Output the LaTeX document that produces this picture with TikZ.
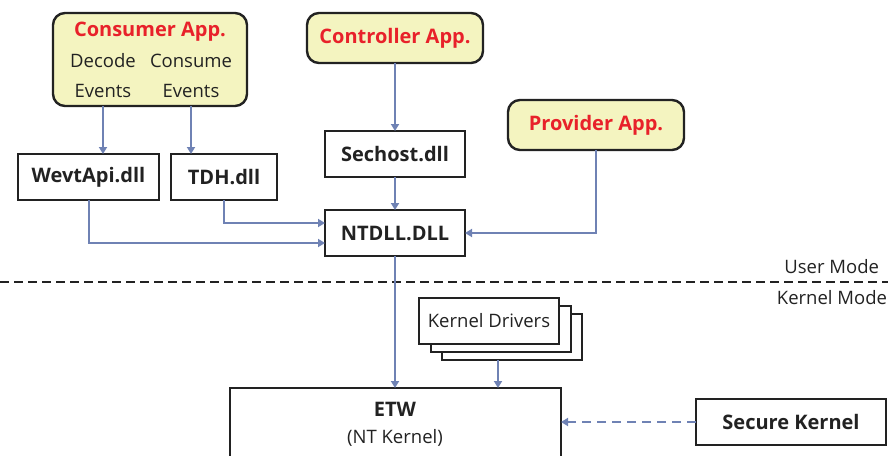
\documentclass[tikz,border=0pt]{standalone}
\usepackage{fontspec}
\setmainfont{Open Sans}
\usetikzlibrary{arrows.meta,positioning}
\definecolor{conn}{HTML}{6F82B4}
\definecolor{appfill}{HTML}{F4F4C0}
\definecolor{appred}{HTML}{E8212A}
\definecolor{edge}{HTML}{222222}
\begin{document}
\begin{tikzpicture}[x=1pt,y=-1pt,
  every node/.style={inner sep=0pt, outer sep=0pt},
  appbox/.style={draw=edge, line width=2.4pt, rounded corners=12pt, fill=appfill},
  dllbox/.style={draw=edge, line width=2pt, fill=white},
  apptext/.style={text=appred, font=\fontsize{20}{24}\selectfont\bfseries},
  dlltext/.style={text=edge, font=\fontsize{20}{24}\selectfont\bfseries},
  plaintext/.style={text=edge, font=\fontsize{18.5}{22}\selectfont},
  link/.style={draw=conn, line width=2pt, -{Triangle[width=8pt,length=7pt]}},
  dlink/.style={link, dash pattern=on 9pt off 6pt},
  modeline/.style={draw=edge, line width=2pt, dash pattern=on 9pt off 5pt}]
\useasboundingbox (0,0) rectangle (888,455);
% Consumer App
\node[appbox, minimum width=194pt, minimum height=93pt] (cons) at (150,59.5) {};
\node[apptext] (consT) at (150,32) {Consumer App.};
\node[plaintext] (dec1) at (103,61) {Decode};
\node[plaintext] (dec2) at (103,91) {Events};
\node[plaintext] (con1) at (191,61) {Consume};
\node[plaintext] (con2) at (191,91) {Events};
% Controller
\node[appbox, minimum width=176pt, minimum height=50pt] (ctrl) at (395,38) {};
\node[apptext] at (ctrl.center) {Controller App.};
% Provider
\node[appbox, minimum width=176pt, minimum height=50pt] (prov) at (596,125) {};
\node[apptext] at (prov.center) {Provider App.};
% DLLs
\node[dllbox, minimum width=141pt, minimum height=46pt] (wevt) at (88.5,177) {};
\node[dlltext] at (wevt.center) {WevtApi.dll};
\node[dllbox, minimum width=106pt, minimum height=46pt] (tdh) at (224,177) {};
\node[dlltext] at (tdh.center) {TDH.dll};
\node[dllbox, minimum width=140pt, minimum height=46pt] (sec) at (395,154) {};
\node[dlltext] at (sec.center) {Sechost.dll};
\node[dllbox, minimum width=140pt, minimum height=46pt] (nt) at (395,233) {};
\node[dlltext] at (nt.center) {NTDLL.DLL};
% Mode line
\coordinate (ml) at (0,282);
\coordinate (mr) at (888,282);
\draw[modeline] (ml) -- (mr);
\node[plaintext, anchor=east] (um) at (879,267) {User Mode};
\node[plaintext, anchor=east] (km) at (887,298) {Kernel Mode};
% Kernel drivers stack
\node[dllbox, minimum width=140pt, minimum height=46pt] (kd3) at (512,337) {};
\node[dllbox, minimum width=140pt, minimum height=46pt] (kd2) at (500.5,329) {};
\node[dllbox, minimum width=140pt, minimum height=46pt] (kd1) at (489,320.5) {};
\node[plaintext] at (kd1.center) {Kernel Drivers};
% ETW
\node[dllbox, minimum width=331pt, minimum height=80pt] (etw) at (395.5,428) {};
\node[dlltext] (etwT) at (395,409) {ETW};
\node[plaintext] (etwS) at (395,438) {(NT Kernel)};
% Secure kernel
\node[dllbox, minimum width=190pt, minimum height=46pt] (sk) at (791,422) {};
\node[dlltext] at (sk.center) {Secure Kernel};
% connectors
\draw[link] (cons.south -| dec1.center) -- (wevt.north -| dec1.center);
\draw[link] (cons.south -| con1.center) -- (tdh.north -| con1.center);
\draw[link] (ctrl.south) -- (sec.north);
\draw[link] (sec.south) -- (nt.north);
\draw[link] (tdh.south) |- ([yshift=10pt]nt.west);
\draw[link] (wevt.south) |- ([yshift=-10pt]nt.west);
\draw[link] (prov.south) |- (nt.east);
\draw[link] (nt.south) -- (nt.south |- etw.north);
\draw[link] (kd3.south -| 498,0) -- (498,388);
\draw[dlink] (sk.west) -- (etw.east |- sk.west);
\end{tikzpicture}
\end{document}
